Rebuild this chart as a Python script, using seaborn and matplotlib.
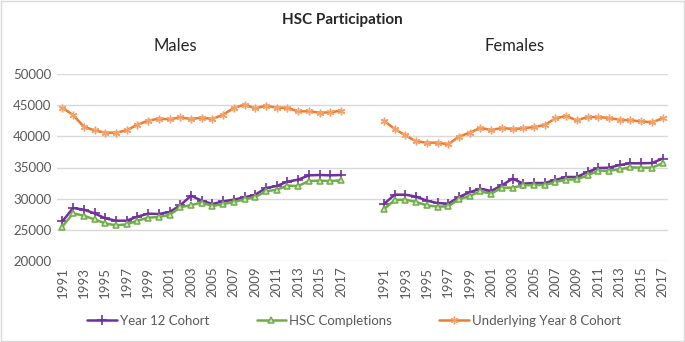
import numpy as np
import pandas as pd
import matplotlib
matplotlib.use("Agg")
import matplotlib.pyplot as plt
import seaborn as sns

# Data
years = list(range(1991, 2018))

male_y12 = [26360, 28500, 28240, 27650, 26840, 26470, 26470, 27110, 27590, 27540,
            27860, 28930, 30480, 29680, 29140, 29570, 29840, 30210, 30640, 31710,
            32030, 32730, 33050, 33740, 33800, 33740, 33800]
male_hsc = [25510, 27650, 27270, 26680, 26040, 25720, 25880, 26470, 26950, 27060,
            27380, 28610, 28980, 29360, 28820, 29140, 29470, 29890, 30270, 31180,
            31440, 32090, 32030, 32830, 32890, 32830, 32940]
male_y8 = [44600, 43420, 41550, 40960, 40590, 40590, 40960, 41870, 42510, 42830,
           42730, 43050, 42780, 43000, 42780, 43480, 44550, 45080, 44490, 44920,
           44600, 44550, 44010, 44010, 43800, 43850, 44120]

female_y12 = [29140, 30640, 30640, 30320, 29680, 29300, 29200, 30270, 31020, 31600,
              31230, 32140, 33210, 32410, 32510, 32510, 33000, 33480, 33480, 34280,
              34920, 34970, 35400, 35670, 35670, 35720, 36420]
female_hsc = [28290, 29790, 29840, 29470, 28930, 28720, 28770, 29890, 30430, 31180,
              30800, 31760, 31760, 32140, 32190, 32190, 32670, 33050, 33100, 33740,
              34490, 34490, 34710, 35030, 34970, 34970, 35670]
female_y8 = [42510, 41180, 40160, 39200, 38980, 38980, 38720, 39950, 40590, 41340,
             41020, 41340, 41180, 41280, 41500, 41820, 42890, 43260, 42570, 43100,
             43100, 42940, 42670, 42570, 42410, 42250, 42890]

series_names = ["Year 12 Cohort", "HSC Completions", "Underlying Year 8 Cohort"]
gap = 3  # empty categories between the two panels

# Build long table: category position, gender, series, value
rows = []
for g, offset, vals in [("Males", 0, [male_y12, male_hsc, male_y8]),
                        ("Females", len(years) + gap, [female_y12, female_hsc, female_y8])]:
    for name, v in zip(series_names, vals):
        for i, (yr, val) in enumerate(zip(years, v)):
            rows.append({"pos": offset + i, "year": yr, "gender": g, "series": name, "value": val})
df = pd.DataFrame(rows)

sns.set_style("white")
plt.rcParams["font.family"] = ["Lato", "DejaVu Sans"]

fig = plt.figure(figsize=(6.85, 3.42), dpi=100)
ax = fig.add_axes([57 / 685, 1 - 261 / 342, 611 / 685, 187 / 342])

styles = {
    "Year 12 Cohort": dict(color="#7030A0", marker="+", markersize=6.5,
                           markeredgecolor="#7030A0", markeredgewidth=1.2),
    "HSC Completions": dict(color="#70AD47", marker="^", markersize=5,
                            markerfacecolor="#d4e8c8", markeredgecolor="#70AD47", markeredgewidth=1.1),
    "Underlying Year 8 Cohort": dict(color="#ED7D31", marker=(6, 2, 0), markersize=5.5,
                                     markeredgecolor="#F4A26A", markeredgewidth=1.0),
}

for g in ["Males", "Females"]:
    for name in series_names:
        sub = df[(df["gender"] == g) & (df["series"] == name)]
        sns.lineplot(data=sub, x="pos", y="value", ax=ax, linewidth=1.8,
                     label=name if g == "Males" else None, **styles[name])

ax.set_xlim(-0.5, 2 * len(years) + gap - 0.5)
ax.set_ylim(20000, 50000)
ax.set_yticks(range(20000, 50001, 5000))
ax.grid(axis="y", color="#D9D9D9", linewidth=1)
ax.set_axisbelow(True)
for s in ax.spines.values():
    s.set_visible(False)

tick_pos = sorted(set(p for p, y in zip(df["pos"], df["year"]) if y % 2 == 1))
tick_lab = [str(df.loc[df["pos"] == p, "year"].iloc[0]) for p in tick_pos]
ax.set_xticks(tick_pos)
ax.set_xticklabels(tick_lab, rotation=90)
ax.tick_params(axis="both", length=0, labelsize=9.5, colors="#595959", pad=4)
ax.set_xlabel("")
ax.set_ylabel("")

leg = ax.legend(loc="center", bbox_to_anchor=((354 - 57) / 611, -60 / 187), ncol=3,
                frameon=False, fontsize=9.5, handlelength=2.25, handletextpad=0.2,
                columnspacing=3.6)
for t in leg.get_texts():
    t.set_color("#595959")

fig.text(0.5, 1 - 20 / 342, "HSC Participation", ha="center", va="center",
         fontsize=11, fontweight="bold")
fig.text(175 / 685, 1 - 46 / 342, "Males", ha="center", va="center", fontsize=12)
fig.text(515 / 685, 1 - 46 / 342, "Females", ha="center", va="center", fontsize=12)

fig.patches.append(plt.Rectangle((0.002, 0.003), 0.996, 0.994, transform=fig.transFigure,
                                 fill=False, edgecolor="#D9D9D9", linewidth=1))

fig.savefig("out.png", dpi=100)
